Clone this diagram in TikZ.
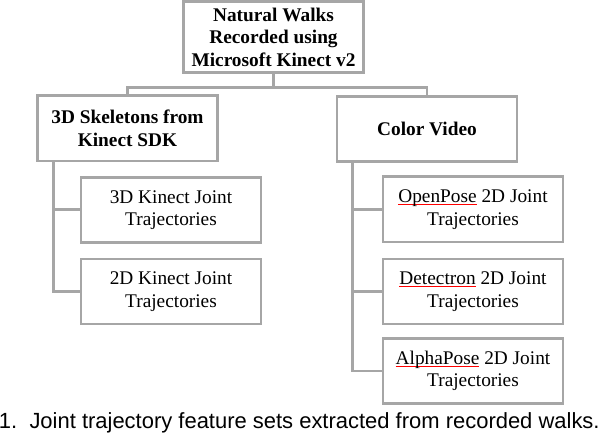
\documentclass[tikz,border=0pt]{standalone}
\usepackage{fontspec}
\setmainfont{Liberation Serif}
\setsansfont{Liberation Sans}
\usetikzlibrary{arrows,shapes}
\definecolor{boxgray}{RGB}{166,166,166}
\tikzstyle{fbox}=[rectangle,draw=boxgray,line width=1.7pt,minimum width=3.6cm,minimum height=1.3cm,align=center,font=\fontsize{11}{12.8}\selectfont]
\tikzstyle{hbox}=[fbox,font=\fontsize{11}{12.8}\selectfont\bfseries]
\tikzstyle{tree}=[draw=boxgray,line width=1.7pt]
\newcommand{\spellmark}[1]{\setbox0\hbox{#1}\rlap{\color{red}\rule[-1.3pt]{\wd0}{0.4pt}}#1}

\begin{document}
\begin{tikzpicture}[tree]
\useasboundingbox (0,0) rectangle (12,8.72);
\node[hbox] (walks) at (5.47,7.98) {Natural Walks\\Recorded using\\Microsoft Kinect v2};
\node[hbox] (skel) at (2.55,6.15) {3D Skeletons from\\Kinect SDK};
\node[hbox] (video) at (8.54,6.14) {Color Video};
\node[fbox] (k3d) at (3.42,4.52) {3D Kinect Joint\\Trajectories};
\node[fbox] (k2d) at (3.42,2.89) {2D Kinect Joint\\Trajectories};
\node[fbox] (op) at (9.46,4.53) {\spellmark{OpenPose} 2D Joint\\Trajectories};
\node[fbox] (det) at (9.46,2.89) {\spellmark{Detectron} 2D Joint\\Trajectories};
\node[fbox] (alp) at (9.46,1.30) {\spellmark{AlphaPose} 2D Joint\\Trajectories};
\coordinate (bus) at (5.47,6.96);
\draw (walks.south)--(bus)-|(skel.north);\draw (bus)-|(video.north);
\draw ([xshift=0.35cm]skel.south west)|-(k3d.west);\draw ([xshift=0.35cm]skel.south west)|-(k2d.west);
\draw ([xshift=0.34cm]video.south west)|-(op.west);\draw ([xshift=0.34cm]video.south west)|-(det.west);
\draw ([xshift=0.34cm]video.south west)|-(alp.west);
\node[anchor=base west,inner sep=0pt,font=\sffamily\fontsize{12.5}{14}\selectfont] (cap) at (-0.05,0.14) {1.\ \ Joint trajectory feature sets extracted from recorded walks.};
\end{tikzpicture}
\end{document}
